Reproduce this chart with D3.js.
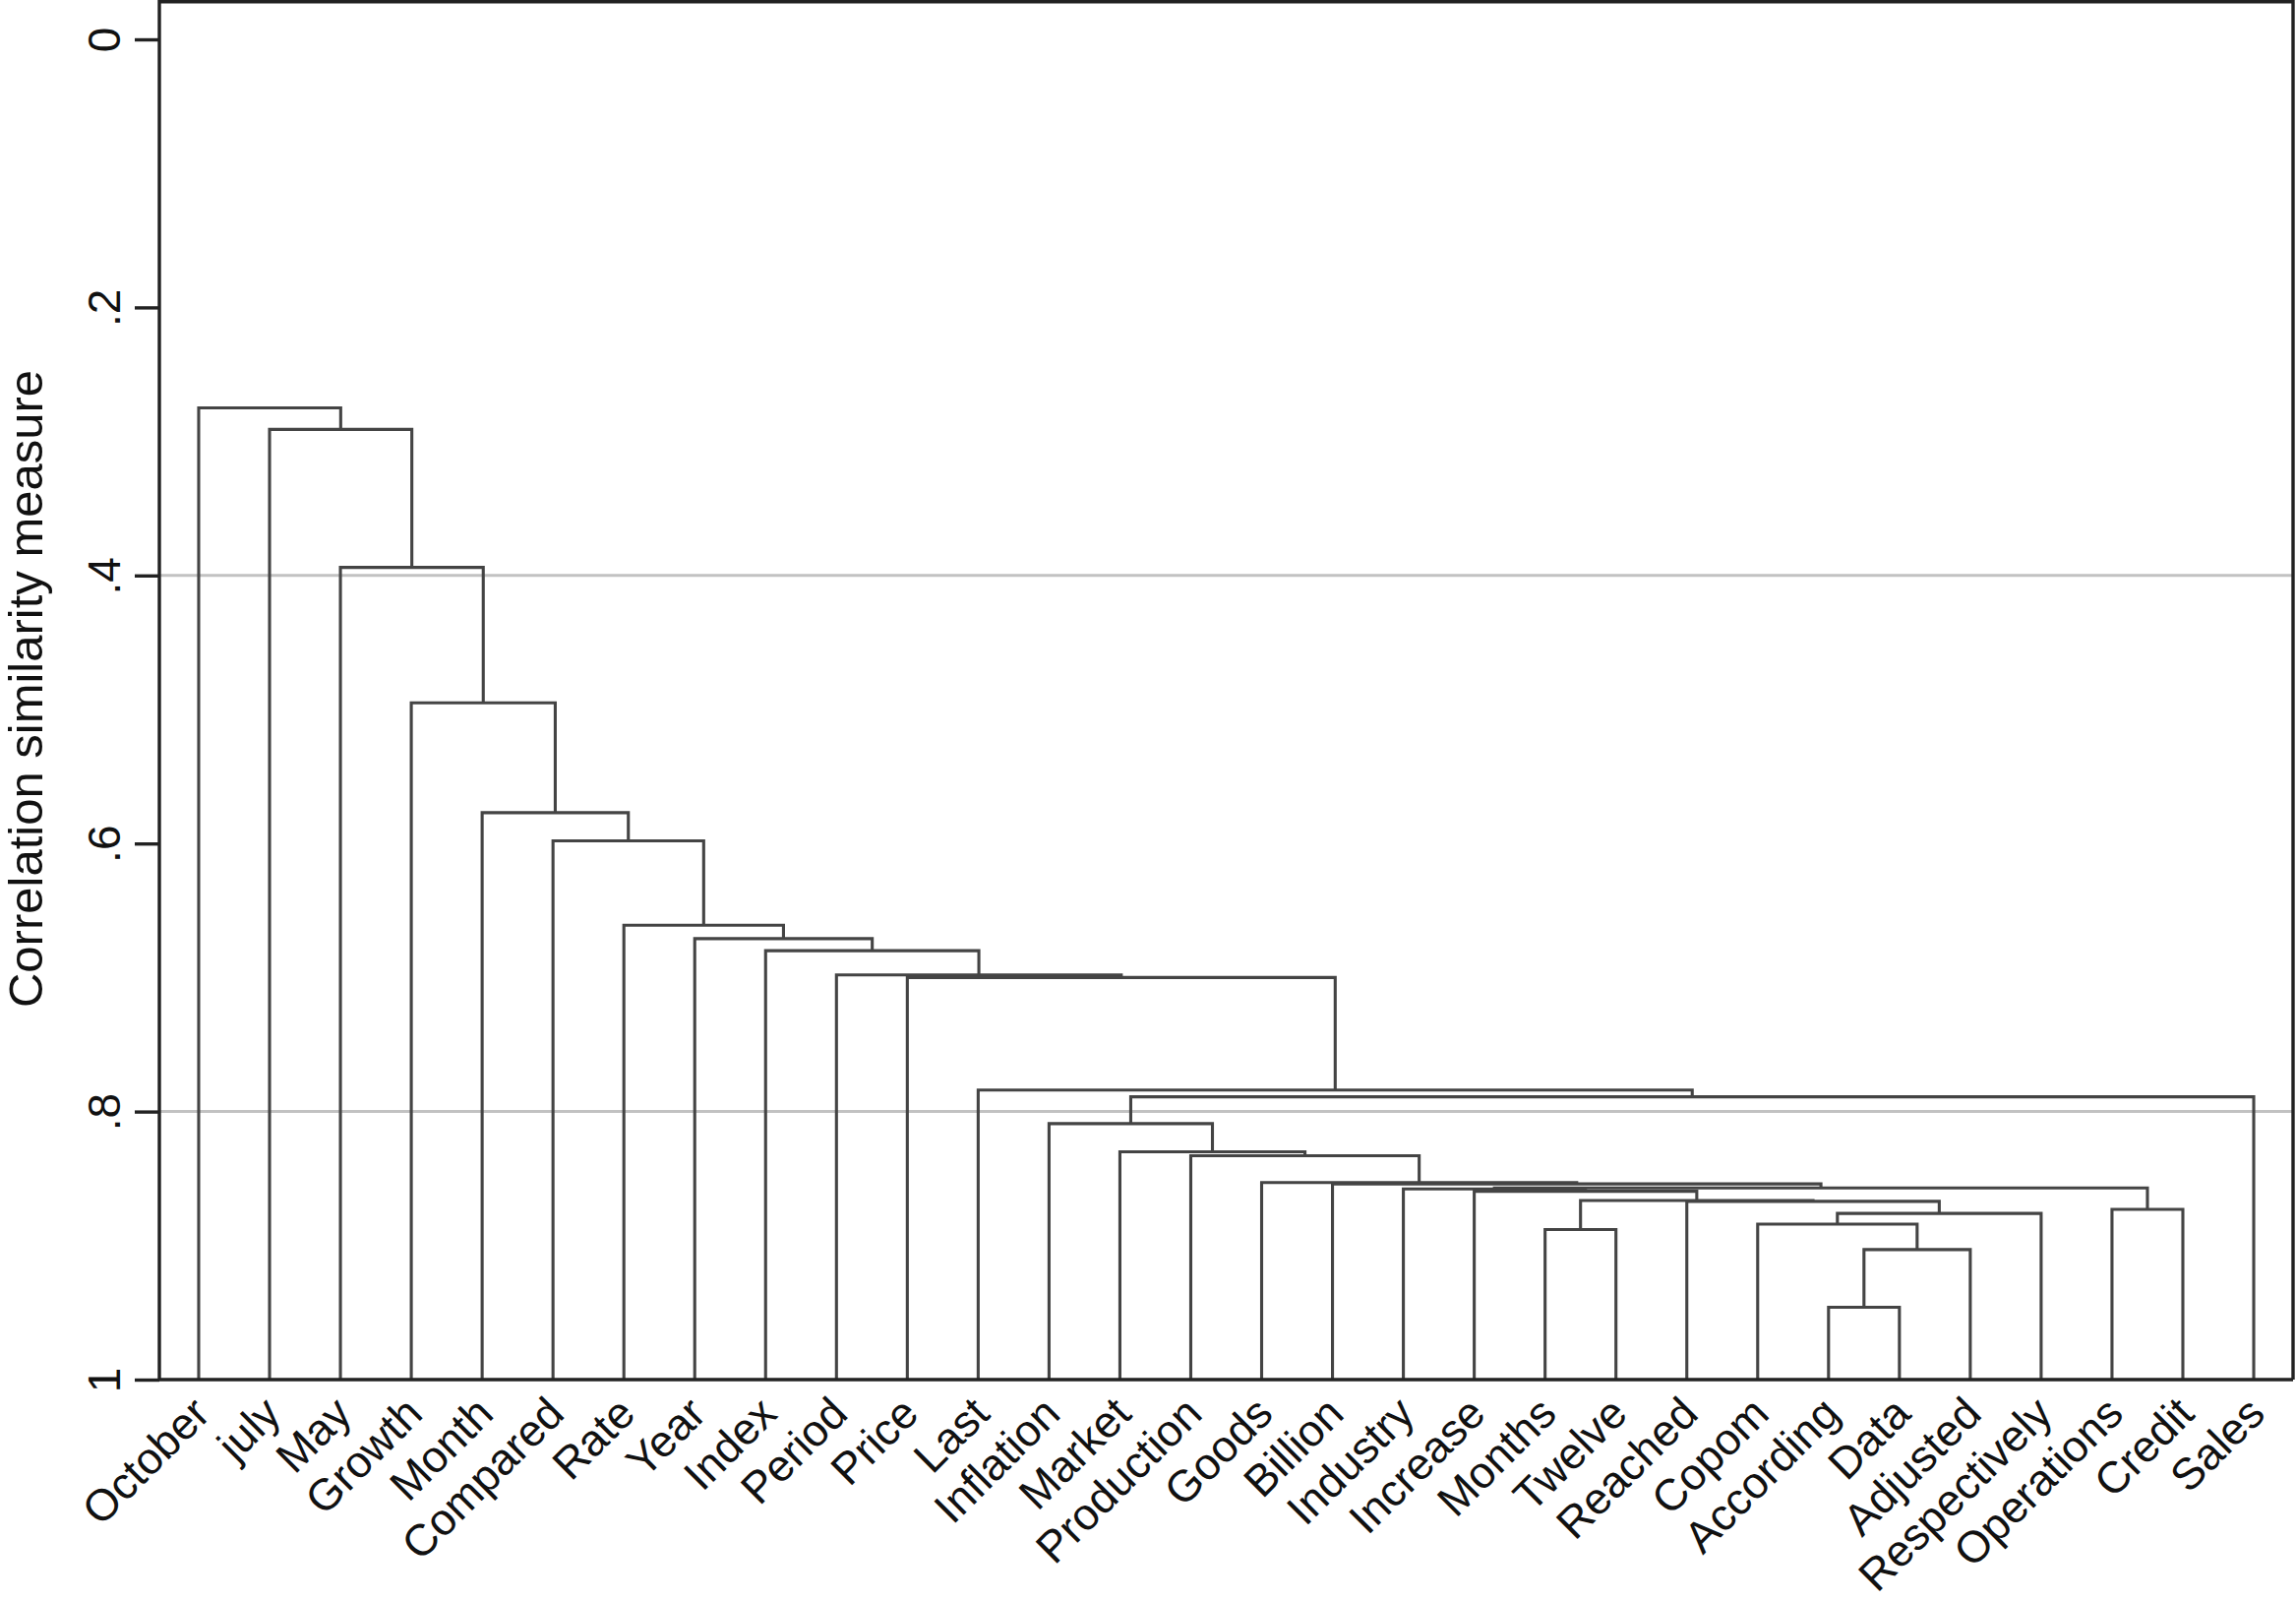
<!DOCTYPE html>
<html>
<head>
<meta charset="utf-8">
<script src="https://cdn.jsdelivr.net/npm/d3@7"></script>
<style>
  body { margin: 0; background: #fff; }
  svg { display: block; font-family: "Liberation Sans", Arial, Helvetica, sans-serif; }
</style>
</head>
<body>
<div id="chart"></div>
<script>
const width = 2334;
const height = 1627;

// leaf order along the x axis
const leaves = ["October", "july", "May", "Growth", "Month", "Compared", "Rate", "Year",
  "Index", "Period", "Price", "Last", "Inflation", "Market", "Production", "Goods",
  "Billion", "Industry", "Increase", "Months", "Twelve", "Reached", "Copom", "According",
  "Data", "Adjusted", "Respectively", "Operations", "Credit", "Sales"];

// each merge: id, its two children, similarity level where they join
const mergeIds = ["Y", "W", "V", "U", "T", "MT", "S", "R", "Q", "OC", "P3", "P2", "P1",
  "Pm", "M", "Xa", "X", "N11", "N10", "N9", "N8", "N7", "N6", "N5", "N4", "N3", "N2", "N1", "root"];
const mergeLeft = ["According", "Y", "Copom", "V", "Reached", "Months", "MT", "Increase",
  "Industry", "Operations", "Q", "Billion", "Goods", "Production", "Market", "Inflation",
  "Xa", "Last", "Price", "Period", "Index", "Year", "Rate", "Compared", "Month", "Growth",
  "May", "july", "October"];
const mergeRight = ["Data", "Adjusted", "W", "Respectively", "U", "Twelve", "T", "S",
  "R", "Credit", "OC", "P3", "P2", "P1", "Pm", "M", "Sales", "X", "N11", "N10", "N9",
  "N8", "N7", "N6", "N5", "N4", "N3", "N2", "N1"];
const mergeSim = [0.946, 0.903, 0.884, 0.876, 0.867, 0.888, 0.8664, 0.8595, 0.8577, 0.873,
  0.857, 0.854, 0.853, 0.833, 0.830, 0.809, 0.789, 0.784, 0.700, 0.698, 0.680, 0.671,
  0.661, 0.598, 0.577, 0.495, 0.394, 0.291, 0.275];

const yTicks = [0, 0.2, 0.4, 0.6, 0.8, 1];
const yTickLabels = ["0", ".2", ".4", ".6", ".8", "1"];
const gridValues = [0.4, 0.8];

const plotLeft = 162, plotRight = 2331, plotTop = 40, plotBottom = 1402;

const svg = d3.select("#chart").append("svg")
  .attr("width", width)
  .attr("height", height);

svg.append("rect").attr("width", width).attr("height", height).attr("fill", "#fff");

const xScale = d3.scalePoint()
  .domain(leaves)
  .range([plotLeft, plotRight])
  .padding(0.555);

const yScale = d3.scaleLinear()
  .domain([0, 1])
  .range([plotTop, plotBottom]);

// build hierarchy from the merge arrays
const parentOf = {};
mergeIds.forEach((id, i) => {
  parentOf[mergeLeft[i]] = id;
  parentOf[mergeRight[i]] = id;
});
const simOf = {};
mergeIds.forEach((id, i) => { simOf[id] = mergeSim[i]; });

const rows = leaves.map(name => ({ id: name, parent: parentOf[name], sim: 1 }))
  .concat(mergeIds.map(id => ({ id: id, parent: parentOf[id] || null, sim: simOf[id] })));

const root = d3.stratify().id(d => d.id).parentId(d => d.parent)(rows);

// place nodes: leaves by the point scale, merges at the mean of their children
root.eachAfter(node => {
  if (!node.children) node.px = xScale(node.id);
  else node.px = d3.mean(node.children, c => c.px);
  node.py = yScale(node.data.sim);
});

// grid lines
svg.append("g")
  .selectAll("line")
  .data(gridValues)
  .enter()
  .append("line")
  .attr("x1", plotLeft)
  .attr("x2", plotRight)
  .attr("y1", d => yScale(d))
  .attr("y2", d => yScale(d))
  .attr("stroke", "#c2c2c2")
  .attr("stroke-width", 3);

// dendrogram links
svg.append("g")
  .selectAll("path")
  .data(root.descendants().filter(d => d.children))
  .enter()
  .append("path")
  .attr("fill", "none")
  .attr("stroke", "#444")
  .attr("stroke-width", 3.1)
  .attr("stroke-linejoin", "miter")
  .attr("d", d => {
    const [a, b] = d.children.slice().sort((p, q) => p.px - q.px);
    return `M${a.px},${a.py}V${d.py}H${b.px}V${b.py}`;
  });

// frame (top and right)
svg.append("path")
  .attr("fill", "none")
  .attr("stroke", "#222")
  .attr("stroke-width", 3.4)
  .attr("d", `M${plotLeft},1.7H${plotRight}V${plotBottom}`);

// y axis
const yAxis = d3.axisLeft(yScale)
  .tickValues(yTicks)
  .tickFormat((d, i) => yTickLabels[i])
  .tickSize(25)
  .tickSizeOuter(0);

const gy = svg.append("g")
  .attr("transform", `translate(${plotLeft}, 0)`)
  .call(yAxis);
gy.select(".domain").attr("d", `M0,0V${plotBottom}`).attr("stroke", "#222").attr("stroke-width", 3.4);
gy.selectAll(".tick line").attr("stroke", "#222").attr("stroke-width", 3.4);
gy.selectAll(".tick text")
  .attr("x", 0)
  .attr("dy", 0)
  .attr("text-anchor", "middle")
  .attr("transform", "translate(-40,0) rotate(-90)")
  .attr("font-size", 46)
  .attr("fill", "#111");

// x axis
const xAxis = d3.axisBottom(xScale).tickSize(0).tickSizeOuter(0);
const gx = svg.append("g")
  .attr("transform", `translate(0, ${plotBottom})`)
  .call(xAxis);
gx.select(".domain").attr("d", `M${plotLeft},0H${plotRight}`).attr("stroke", "#222").attr("stroke-width", 3.4);
gx.selectAll(".tick text")
  .attr("y", 0)
  .attr("x", 0)
  .attr("dy", "0.35em")
  .attr("text-anchor", "end")
  .attr("transform", "translate(2,26) rotate(-45)")
  .attr("font-size", 45)
  .attr("fill", "#111");

// y axis title
svg.append("text")
  .attr("transform", `translate(43, 700) rotate(-90)`)
  .attr("text-anchor", "middle")
  .attr("font-size", 49)
  .attr("fill", "#111")
  .text("Correlation similarity measure");
</script>
</body>
</html>
